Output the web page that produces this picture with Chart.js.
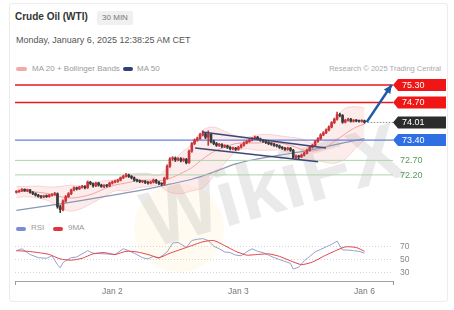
<!DOCTYPE html>
<html>
<head>
<meta charset="utf-8">
<title>Crude Oil (WTI) 30 MIN</title>
<script src="https://cdn.jsdelivr.net/npm/chart.js"></script>
<style>
  body { margin: 0; width: 454px; height: 310px; background: #fff; position: relative; overflow: hidden;
         font-family: Arial, "Liberation Sans", sans-serif; }
  .abs { position: absolute; white-space: nowrap; }
  #card { left: 9px; top: 3px; width: 437px; height: 297px; border: 1px solid #ececec; border-radius: 3px; }
  #title { left: 15px; top: 11px; font-size: 10px; font-weight: bold; color: #333; }
  #badge { left: 97px; top: 11px; width: 36px; height: 14px; background: #f0f0f0; border-radius: 2px;
           font-size: 8px; color: #777; text-align: center; line-height: 14px; }
  #date { left: 16px; top: 35px; font-size: 9px; color: #555; }
  .sw { position: absolute; height: 4px; border-radius: 2px; }
  .lg { font-size: 8px; color: #999; }
  #wm { left: 132px; top: 178px; font-size: 80px; font-weight: bold; color: rgba(175,175,175,0.26);
        transform: rotate(-16deg); transform-origin: left top; }
  #logo { left: 134px; top: 184px; width: 90px; height: 88px; border-radius: 44px; background: rgba(255,222,150,0.13); }
  canvas { position: absolute; left: 0; }
</style>
</head>
<body>
<div id="card" class="abs"></div>
<div id="logo" class="abs"></div>
<div id="wm" class="abs">WikiFX</div>

<div id="title" class="abs">Crude Oil (WTI)</div>
<div id="badge" class="abs">30 MIN</div>
<div id="date" class="abs">Monday, January 6, 2025 12:38:25 AM CET</div>

<div class="sw" style="left:16px; top:67px; width:11px; background:#f4a9a9;"></div>
<div class="abs lg" style="left:32px; top:64px;">MA 20 + Bollinger Bands</div>
<div class="sw" style="left:123px; top:67px; width:10px; background:#2d4373;"></div>
<div class="abs lg" style="left:137px; top:64px;">MA 50</div>
<div class="abs lg" style="right:13px; top:64px; font-size:7.5px; color:#aaa;">Research © 2025 Trading Central</div>

<div class="sw" style="left:16px; top:227px; width:10px; background:#7f8ad6;"></div>
<div class="abs lg" style="left:31px; top:223px;">RSI</div>
<div class="sw" style="left:53px; top:227px; width:10px; background:#e0353d;"></div>
<div class="abs lg" style="left:68px; top:223px;">9MA</div>

<canvas id="price" width="454" height="165" style="top:60px"></canvas>
<canvas id="rsi" width="454" height="85" style="top:225px"></canvas>

<script>
// 30 min candles, index 0 = Jan 1 evening, index 127 = Jan 6 00:00
const opens = [
71.60,71.62,71.65,71.70,71.66,71.68,71.60,71.55,71.50,71.46,
71.44,71.47,71.45,71.50,71.52,71.55,71.10,71.00,71.30,71.45,
71.55,71.68,71.75,71.72,71.78,71.80,71.76,71.95,71.90,71.82,
71.92,71.85,71.80,71.84,71.82,71.92,71.95,71.98,72.02,72.10,
72.15,72.20,72.15,72.10,72.02,72.00,71.97,71.98,71.94,71.92,
71.95,72.02,71.95,71.90,71.88,72.08,72.50,72.75,72.78,72.72,
72.76,72.70,72.74,72.62,73.02,73.28,73.40,73.45,73.58,73.62,
73.50,73.60,73.35,73.28,73.22,73.25,73.18,73.20,73.15,73.10,
73.12,73.08,73.15,73.22,73.30,73.35,73.40,73.45,73.50,73.44,
73.40,73.36,73.32,73.28,73.26,73.22,73.20,73.15,73.12,73.08,
73.12,73.05,72.80,72.85,72.82,72.88,72.95,73.05,73.15,73.22,
73.35,73.45,73.58,73.65,73.75,73.85,74.00,74.12,74.28,74.25,
74.02,74.08,74.12,74.05,74.08,74.06,74.05,74.07];
const highs = [
71.66,71.68,71.73,71.72,71.71,71.70,71.63,71.58,71.53,71.49,
71.50,71.51,71.53,71.56,71.60,71.58,71.15,71.34,71.49,71.59,
71.71,71.79,71.78,71.81,71.84,71.83,71.99,71.98,71.93,71.95,
71.95,71.88,71.87,71.87,71.95,71.99,72.02,72.05,72.13,72.19,
72.25,72.23,72.18,72.13,72.06,72.03,72.01,72.01,71.97,71.98,
72.06,72.05,71.98,71.93,72.12,72.55,72.80,72.83,72.82,72.80,
72.80,72.78,72.77,73.06,73.32,73.44,73.50,73.63,73.72,73.66,
73.72,73.63,73.40,73.32,73.29,73.28,73.24,73.23,73.18,73.16,
73.15,73.19,73.26,73.34,73.39,73.44,73.49,73.54,73.53,73.47,
73.43,73.39,73.35,73.31,73.29,73.25,73.23,73.18,73.15,73.16,
73.15,73.08,72.89,72.88,72.92,72.99,73.09,73.19,73.26,73.39,
73.49,73.62,73.69,73.79,73.89,74.04,74.16,74.37,74.33,74.28,
74.12,74.16,74.15,74.11,74.11,74.09,74.10,74.09];
const lows = [
71.57,71.60,71.63,71.63,71.62,71.57,71.52,71.47,71.43,71.40,
71.41,71.42,71.43,71.47,71.49,71.05,70.90,70.96,71.26,71.42,
71.52,71.65,71.68,71.69,71.74,71.72,71.73,71.86,71.78,71.79,
71.81,71.77,71.76,71.78,71.79,71.88,71.92,71.94,71.99,72.07,
72.12,72.11,72.06,71.98,71.96,71.93,71.93,71.90,71.88,71.89,
71.92,71.91,71.86,71.83,71.85,72.05,72.46,72.70,72.66,72.68,
72.65,72.66,72.58,72.60,72.98,73.24,73.36,73.42,73.54,73.45,
73.22,73.30,73.24,73.18,73.18,73.14,73.14,73.11,73.06,73.06,
73.04,73.05,73.12,73.19,73.27,73.32,73.37,73.42,73.40,73.36,
73.32,73.28,73.24,73.22,73.18,73.16,73.11,73.08,73.04,73.05,
73.01,72.76,72.76,72.76,72.79,72.85,72.92,73.02,73.12,73.19,
73.32,73.42,73.55,73.62,73.72,73.82,73.97,74.09,74.20,73.98,
73.99,74.05,74.02,74.02,74.03,74.02,74.02,73.98];
const closes = [
71.62,71.65,71.70,71.66,71.68,71.60,71.55,71.50,71.46,71.44,
71.47,71.45,71.50,71.52,71.55,71.10,71.00,71.30,71.45,71.55,
71.68,71.75,71.72,71.78,71.80,71.76,71.95,71.90,71.82,71.92,
71.85,71.80,71.84,71.82,71.92,71.95,71.98,72.02,72.10,72.15,
72.20,72.15,72.10,72.02,72.00,71.97,71.98,71.94,71.92,71.95,
72.02,71.95,71.90,71.88,72.08,72.50,72.75,72.78,72.72,72.76,
72.70,72.74,72.62,73.02,73.28,73.40,73.45,73.58,73.62,73.50,
73.60,73.35,73.28,73.22,73.25,73.18,73.20,73.15,73.10,73.12,
73.08,73.15,73.22,73.30,73.35,73.40,73.45,73.50,73.44,73.40,
73.36,73.32,73.28,73.26,73.22,73.20,73.15,73.12,73.08,73.12,
73.05,72.80,72.85,72.82,72.88,72.95,73.05,73.15,73.22,73.35,
73.45,73.58,73.65,73.75,73.85,74.00,74.12,74.28,74.25,74.02,
74.08,74.12,74.05,74.08,74.06,74.05,74.07,74.01];

// MA20 + Bollinger bands (read every 4 candles)
const bandX     = [0,4,8,12,16,20,24,28,32,36,40,44,48,52,56,60,64,68,72,76,80,84,88,92,96,100,104,108,112,116,120,124,127];
const ma20      = [71.62,71.63,71.60,71.55,71.45,71.40,71.45,71.55,71.72,71.85,71.92,72.00,72.02,72.00,72.08,72.25,72.45,72.75,73.00,73.15,73.28,73.30,73.30,73.32,73.30,73.22,73.08,73.02,73.12,73.35,73.62,73.85,73.95];
const bandUpper = [71.80,71.80,71.82,71.78,71.80,71.85,71.80,71.88,72.00,72.02,72.20,72.25,72.25,72.18,72.55,72.95,73.25,73.75,73.85,73.70,73.55,73.50,73.58,73.60,73.55,73.50,73.45,73.30,73.60,74.10,74.50,74.55,74.50];
const bandLower = [71.42,71.45,71.40,71.30,71.05,70.95,71.05,71.25,71.45,71.65,71.65,71.75,71.80,71.82,71.60,71.55,71.65,71.75,72.15,72.60,73.00,73.10,73.05,73.05,73.05,72.95,72.70,72.72,72.65,72.60,72.75,73.15,73.40];

const ma50X = [0,16,32,48,56,64,72,80,88,96,104,112,120,127];
const ma50  = [70.98,71.20,71.45,71.72,71.88,72.05,72.30,72.58,72.75,72.88,73.00,73.15,73.32,73.45];

// key levels
const levelValues = [75.30, 74.70, 74.01, 73.40, 72.70, 72.20];
const levelLabels = ['75.30', '74.70', '74.01', '73.40', '72.70', '72.20'];

// drawn pattern lines (candle index, price)
const channelUpper = [[67.7, 73.68], [113, 73.13]];
const channelLower = [[65.2, 73.13], [110.1, 72.65]];
const arrowPath    = [[127.8, 74.02], [136.9, 75.30]];

// RSI and its 9MA
const rsiX = [0,2,5,8,11,13,15,16,17,18,20,22,26,28,32,36,39,41,43,46,48,50,52,55,57,59,62,64,66,68,70,72,74,76,78,80,82,84,86,88,90,92,94,96,98,100,101,103,105,107,109,111,113,115,117,119,121,123,125,127];
const rsi  = [64,67,58,53,52,56,42,37,45,48,53,54,64,60,59,58,67,64,60,53,51,55,52,62,76,77,69,80,82,83,80,71,67,62,61,57,56,62,67,63,61,57,53,50,47,44,35,38,48,55,62,66,70,74,79,65,65,64,63,60];
const rsiMaX = [0,4,8,12,16,20,24,28,32,36,40,44,48,52,56,60,64,68,72,76,80,84,88,92,96,100,104,108,112,116,120,124,127];
const rsiMa  = [64,63,61,58,51,49,52,59,61,58,63,62,58,53,60,66,72,78,80,72,63,57,58,59,55,48,42,46,55,63,70,69,63];
const rsiTicks = [30, 50, 70];

// time axis
const xTickPos = [35, 81, 127];
const xTickLabels = ['Jan 2', 'Jan 3', 'Jan 6'];
const xMin = -0.5, xMax = 137.4;

Chart.defaults.font.family = 'Arial, "Liberation Sans", sans-serif';
Chart.defaults.animation = false;

const pts = (xs, ys) => xs.map((x, i) => ({ x: x, y: ys[i] }));
const seg = p => p.map(d => ({ x: d[0], y: d[1] }));
const flat = v => [{ x: xMin, y: v }, { x: xMax, y: v }];

const upCol = '#c9353b', downCol = '#3a3a3a';
const candleCols = closes.map((c, i) => c >= opens[i] ? upCol : downCol);

function line(data, color, width, order, extra) {
    return Object.assign({ type: 'line', data: data, borderColor: color, borderWidth: width,
        pointRadius: 0, fill: false, tension: 0, order: order }, extra || {});
}

const levelStyle = {
    '75.30': { line: '#e8191f', w: 1.5, tag: '#f11616' },
    '74.70': { line: '#e8191f', w: 1.5, tag: '#f11616' },
    '74.01': { line: null, tag: '#2c2c2c' },
    '73.40': { line: '#6683d8', w: 1.2, tag: '#2f6fe4' },
    '72.70': { line: '#acd6ac', w: 1, text: '#5a9a5a' },
    '72.20': { line: '#acd6ac', w: 1, text: '#5a9a5a' }
};

const levelDatasets = levelValues.map((v, i) => {
    const st = levelStyle[levelLabels[i]];
    if (!st.line) {
        return line([{ x: 128.2, y: v }, { x: xMax, y: v }], '#8a8a8a', 1, 4, { borderDash: [1.5, 1.5] });
    }
    return line(flat(v), st.line, st.w, 4);
});

const levelTags = {
    id: 'levelTags',
    afterDraw(chart) {
        const ctx = chart.ctx, ys = chart.scales.y, x0 = chart.chartArea.right;
        ctx.save();
        ctx.font = '9px Arial, "Liberation Sans", sans-serif';
        ctx.textBaseline = 'middle';
        levelValues.forEach((v, i) => {
            const st = levelStyle[levelLabels[i]];
            const py = ys.getPixelForValue(v);
            if (st.tag) {
                ctx.fillStyle = st.tag;
                ctx.beginPath();
                ctx.moveTo(x0, py);
                ctx.lineTo(x0 + 5, py - 6);
                ctx.lineTo(x0 + 53, py - 6);
                ctx.lineTo(x0 + 53, py + 6);
                ctx.lineTo(x0 + 5, py + 6);
                ctx.closePath();
                ctx.fill();
                ctx.fillStyle = '#fff';
                ctx.fillText(levelLabels[i], x0 + 9, py + 0.5);
            } else {
                ctx.fillStyle = st.text;
                ctx.fillText(levelLabels[i], x0 + 7, py + 0.5);
            }
        });
        ctx.restore();
    }
};

const arrowHead = {
    id: 'arrowHead',
    afterDatasetsDraw(chart) {
        const meta = chart.getDatasetMeta(0);
        const a = meta.data[0], b = meta.data[1];
        const ang = Math.atan2(b.y - a.y, b.x - a.x);
        const ctx = chart.ctx;
        ctx.save();
        ctx.fillStyle = '#1f5aa6';
        ctx.beginPath();
        ctx.moveTo(b.x, b.y);
        ctx.lineTo(b.x - 9 * Math.cos(ang - 0.45), b.y - 9 * Math.sin(ang - 0.45));
        ctx.lineTo(b.x - 9 * Math.cos(ang + 0.45), b.y - 9 * Math.sin(ang + 0.45));
        ctx.closePath();
        ctx.fill();
        ctx.restore();
    }
};

new Chart(document.getElementById('price'), {
    type: 'line',
    data: {
        datasets: [
            line(seg(arrowPath), '#1f5aa6', 2.5, 0),
            line(seg(channelUpper), '#3b4876', 1.5, 1),
            line(seg(channelLower), '#3b4876', 1.5, 1),
            {
                type: 'bar', order: 2, grouped: false, barThickness: 2, minBarLength: 1,
                data: opens.map((o, i) => ({ x: i, y: [o, closes[i]] })),
                backgroundColor: candleCols
            },
            {
                type: 'bar', order: 3, grouped: false, barThickness: 1,
                data: lows.map((l, i) => ({ x: i, y: [l, highs[i]] })),
                backgroundColor: candleCols
            },
            ...levelDatasets,
            line(pts(bandX, ma20), '#f2a2a2', 1, 5, { tension: 0.3 }),
            line(pts(ma50X, ma50), '#8c96b1', 1.2, 6, { tension: 0.3 }),
            line(pts(bandX, bandUpper), 'rgba(240,150,150,0.35)', 1, 7, { tension: 0.3, fill: '+1', backgroundColor: 'rgba(242,150,150,0.18)' }),
            line(pts(bandX, bandLower), 'rgba(240,150,150,0.35)', 1, 7, { tension: 0.3 })
        ]
    },
    options: {
        responsive: false,
        devicePixelRatio: 1,
        layout: { padding: { left: 15, right: 61, top: 18, bottom: 7 } },
        plugins: { legend: { display: false }, tooltip: { enabled: false } },
        scales: {
            x: { type: 'linear', min: xMin, max: xMax, offset: false, display: false },
            y: { min: 70.714, max: 75.541, display: false }
        }
    },
    plugins: [levelTags, arrowHead]
});

new Chart(document.getElementById('rsi'), {
    type: 'line',
    data: {
        datasets: [
            line(pts(rsiMaX, rsiMa), '#e3434d', 1, 0, { tension: 0.2 }),
            line(pts(rsiX, rsi), '#95a2cc', 1, 1)
        ]
    },
    options: {
        responsive: false,
        devicePixelRatio: 1,
        layout: { padding: { left: 15, right: 0, top: 11, bottom: 9 } },
        plugins: { legend: { display: false }, tooltip: { enabled: false } },
        scales: {
            x: {
                type: 'linear', min: xMin, max: xMax, offset: false,
                afterBuildTicks: s => { s.ticks = [xMin].concat(xTickPos, [xMax]).map(v => ({ value: v })); },
                afterFit: s => { s.height = 20; },
                ticks: {
                    autoSkip: false, maxRotation: 0, padding: 2, color: '#777', font: { size: 8.5 },
                    callback: v => { const k = xTickPos.indexOf(v); return k >= 0 ? xTickLabels[k] : ''; }
                },
                grid: {
                    drawOnChartArea: false, tickLength: 4,
                    color: c => (c.index === 0 || c.index === xTickPos.length + 1) ? '#999' : 'rgba(0,0,0,0)'
                },
                border: { display: true, color: '#a0a0a0' }
            },
            y: {
                position: 'right', min: 16.2, max: 85.4,
                afterBuildTicks: s => { s.ticks = rsiTicks.map(v => ({ value: v })); },
                afterFit: s => { s.width = 61; },
                ticks: { padding: 7, color: '#888', font: { size: 8.5 } },
                grid: { drawTicks: false, color: '#d4d4d4' },
                border: { display: false, dash: [1, 2] }
            }
        }
    }
});
</script>
</body>
</html>
